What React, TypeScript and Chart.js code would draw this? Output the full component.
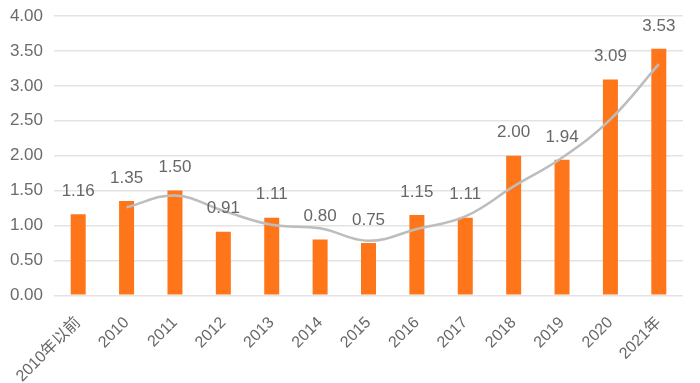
import React, { useEffect, useRef } from "react";
import { Chart, registerables } from "chart.js";

Chart.register(...registerables);

const categories = ["2010年以前", "2010", "2011", "2012", "2013", "2014", "2015", "2016", "2017", "2018", "2019", "2020", "2021年"];
const barValues = [1.16, 1.35, 1.5, 0.91, 1.11, 0.8, 0.75, 1.15, 1.11, 2.0, 1.94, 3.09, 3.53];
const trendValues = [null, 1.26, 1.43, 1.21, 1.01, 0.96, 0.78, 0.95, 1.13, 1.56, 1.97, 2.52, 3.31];
const yTicks = [0, 0.5, 1, 1.5, 2, 2.5, 3, 3.5, 4];

const FONT = '"Liberation Sans", "Noto Sans CJK SC", sans-serif';

const valueLabels = {
  id: "valueLabels",
  afterDatasetsDraw(chart: any) {
    const ctx = chart.ctx;
    const meta = chart.getDatasetMeta(0);
    ctx.save();
    ctx.font = `17px ${FONT}`;
    ctx.fillStyle = "#676767";
    ctx.textAlign = "center";
    ctx.textBaseline = "middle";
    meta.data.forEach((el: any, i: number) => {
      ctx.fillText(barValues[i].toFixed(2), el.x, el.y - 23);
    });
    ctx.restore();
  },
};

export default function App() {
  const ref = useRef<HTMLCanvasElement>(null);
  useEffect(() => {
    const chart = new Chart(ref.current!, {
      type: "bar",
      data: {
        labels: categories,
        datasets: [
          {
            type: "bar",
            data: barValues,
            backgroundColor: "#FF761A",
            barPercentage: 0.31,
            categoryPercentage: 1,
            order: 1,
          },
          {
            type: "line",
            data: trendValues as any,
            borderColor: "#BDBDBD",
            borderWidth: 2.5,
            pointRadius: 0,
            tension: 0.4,
            fill: false,
            order: 0,
          } as any,
        ],
      },
      options: {
        animation: false,
        responsive: true,
        maintainAspectRatio: false,
        layout: { padding: { left: 9, right: 17, top: 16, bottom: -13 } },
        plugins: { legend: { display: false }, tooltip: { enabled: false } },
        scales: {
          x: {
            grid: { display: false },
            border: { display: false },
            afterFit: (s: any) => {
              s.paddingLeft = 0;
              s.paddingRight = 0;
            },
            ticks: {
              minRotation: 45,
              maxRotation: 45,
              color: "#676767",
              font: { size: 16, family: FONT },
              padding: 10,
            },
          },
          y: {
            min: 0,
            max: 4,
            afterBuildTicks: (axis: any) => {
              axis.ticks = yTicks.map((v) => ({ value: v }));
            },
            afterFit: (s: any) => {
              s.paddingTop = 0;
              s.width = 45;
            },
            grid: { color: "#E3E3E3", lineWidth: 1.5, drawTicks: false },
            border: { display: false },
            ticks: {
              color: "#6b6b6b",
              font: { size: 17, family: FONT },
              padding: 11,
              callback: (v: any) => Number(v).toFixed(2),
            },
          },
        },
      },
      plugins: [valueLabels],
    });
    return () => chart.destroy();
  }, []);
  return (
    <div style={{ position: "fixed", left: 0, top: 0, width: 700, height: 383, background: "#fff" }}>
      <canvas ref={ref} />
    </div>
  );
}
